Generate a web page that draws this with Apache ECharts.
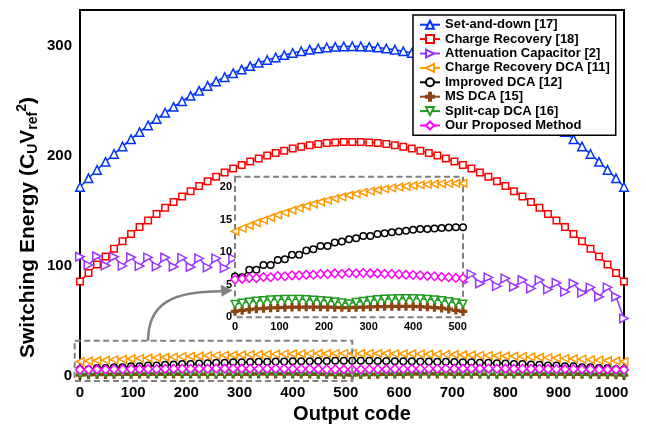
<!DOCTYPE html>
<html><head><meta charset="utf-8">
<script src="https://cdn.jsdelivr.net/npm/echarts@6/dist/echarts.min.js"></script>
<style>html,body{margin:0;padding:0;background:#fff}#c{width:646px;height:427px}</style>
</head><body><div id="c"></div>
<script>
const codes = [0,16,32,48,64,80,96,112,128,144,160,176,192,208,224,240,256,272,288,304,320,336,352,368,384,400,416,432,448,464,480,496,512,528,544,560,576,592,608,624,640,656,672,688,704,720,736,752,768,784,800,816,832,848,864,880,896,912,928,944,960,976,992,1008,1023];

const setAndDown = [172,179.9,187.5,194.9,202,208.9,215.5,221.9,228,233.9,239.5,244.9,250,254.9,259.5,263.9,268,271.9,275.5,278.9,282,284.9,287.5,289.9,292,293.9,295.5,296.9,298,298.9,299.5,299.9,300,299.9,299.5,298.9,298,296.9,295.5,293.9,292,289.9,287.5,284.9,282,278.9,275.5,271.9,268,263.9,259.5,254.9,250,244.9,239.5,233.9,228,221.9,215.5,208.9,202,194.9,187.5,179.9,172];

const chargeRecovery = [86,93.8,101.4,108.7,115.8,122.6,129.2,135.5,141.6,147.4,153,158.3,163.4,168.2,172.8,177.1,181.2,185.1,188.7,192,195.1,198,200.6,202.9,205,206.9,208.5,209.9,211,211.9,212.5,212.9,213,212.9,212.5,211.9,211,209.9,208.5,206.9,205,202.9,200.6,198,195.1,192,188.7,185.1,181.2,177.1,172.8,168.2,163.4,158.3,153,147.4,141.6,135.5,129.2,122.6,115.8,108.7,101.4,93.8,86];

const attenuationCap = [108.5,100.9,109,100.5,108.5,100.2,108,100,107.9,99.7,107.8,99.4,107.5,99.2,107,98.8,107,98.2,107,97.8,106,97,105,96,104,95,103,94,102,93,101,92.5,100,91.5,99,90.5,98,89.5,97,88.5,96,87.5,95,86.5,94,85.5,92.7,84.2,89.7,81.8,88.8,81.2,87.3,79.7,87.3,78.8,84.8,76.6,84.2,75.7,80.6,72.1,80.6,72.1,52.4];

const chargeRecoveryDCA = [13.2,13.66,14.1,14.52,14.93,15.33,15.72,16.08,16.44,16.78,17.1,17.41,17.71,17.99,18.26,18.51,18.75,18.97,19.18,19.38,19.56,19.73,19.88,20.01,20.14,20.25,20.34,20.42,20.48,20.53,20.57,20.59,20.6,20.59,20.57,20.53,20.48,20.42,20.34,20.25,20.14,20.01,19.88,19.73,19.56,19.38,19.18,18.97,18.75,18.51,18.26,17.99,17.71,17.41,17.1,16.78,16.44,16.08,15.72,15.33,14.93,14.52,14.1,13.66,13.2];

const improvedDCA = [6.25,6.15,7.3,7.3,8.05,8.05,8.8,8.9,9.6,9.6,10.25,10.45,10.95,10.95,11.5,11.65,12,12.15,12.5,12.5,12.8,12.9,13.05,13.2,13.3,13.45,13.55,13.55,13.65,13.7,13.8,13.85,13.85,13.85,13.8,13.7,13.65,13.55,13.55,13.45,13.3,13.2,13.05,12.9,12.8,12.5,12.5,12.15,12,11.65,11.5,10.95,10.95,10.45,10.25,9.6,9.6,8.9,8.8,8.05,8.05,7.3,7.3,6.15,6.25];

const msDCA = [0.9,1.05,1.18,1.28,1.36,1.43,1.48,1.52,1.55,1.57,1.58,1.58,1.57,1.55,1.52,1.5,1.48,1.52,1.56,1.6,1.63,1.65,1.66,1.67,1.67,1.66,1.63,1.58,1.5,1.4,1.25,1.08,0.9,1.08,1.25,1.4,1.5,1.58,1.63,1.66,1.67,1.67,1.66,1.65,1.63,1.6,1.56,1.52,1.48,1.5,1.52,1.55,1.57,1.58,1.58,1.57,1.55,1.52,1.48,1.43,1.36,1.28,1.18,1.05,0.9];

const splitCapDCA = [2,2.2,2.35,2.5,2.6,2.68,2.73,2.76,2.77,2.76,2.73,2.67,2.6,2.5,2.37,2.23,2.1,2.3,2.47,2.62,2.73,2.81,2.86,2.89,2.9,2.89,2.85,2.79,2.7,2.58,2.43,2.25,2.05,2.25,2.43,2.58,2.7,2.79,2.85,2.89,2.9,2.89,2.86,2.81,2.73,2.62,2.47,2.3,2.1,2.23,2.37,2.5,2.6,2.67,2.73,2.76,2.77,2.76,2.73,2.68,2.6,2.5,2.35,2.2,2];

const proposed = [5.8,5.9,6.05,6,6.2,6.15,6.35,6.3,6.45,6.45,6.55,6.55,6.65,6.65,6.75,6.7,6.8,6.75,6.8,6.75,6.75,6.7,6.65,6.6,6.55,6.5,6.45,6.35,6.3,6.2,6.15,6.05,6,6.05,6.15,6.2,6.3,6.35,6.45,6.5,6.55,6.6,6.65,6.7,6.75,6.75,6.8,6.75,6.8,6.7,6.75,6.65,6.65,6.55,6.55,6.45,6.45,6.3,6.35,6.15,6.2,6,6.05,5.9,5.8];

const mainXTicks = [0,100,200,300,400,500,600,700,800,900,1000];
const mainYTicks = [0,100,200,300];
const insetXTicks = [0,100,200,300,400,500];
const insetYTicks = [0,5,10,15,20];
const insetCount = 33; // codes 0..512

const FONT = '"Liberation Sans", Arial, Helvetica, sans-serif';
const plusPath = 'path://M3,0H5V3H8V5H5V8H3V5H0V3H3Z';

const defs = [
  {name:'Set-and-down [17]', data:setAndDown, color:'#0033ff', symbol:'triangle', rot:0, size:8.5, inset:false},
  {name:'Charge Recovery [18]', data:chargeRecovery, color:'#ff0000', symbol:'rect', rot:0, size:6.5, inset:false},
  {name:'Attenuation Capacitor [2]', data:attenuationCap, color:'#9933ff', symbol:'triangle', rot:-90, size:8.5, inset:false},
  {name:'Charge Recovery DCA [11]', data:chargeRecoveryDCA, color:'#ff9900', symbol:'triangle', rot:90, size:7.5, inset:true},
  {name:'Improved DCA [12]', data:improvedDCA, color:'#000000', symbol:'circle', rot:0, size:6.5, inset:true},
  {name:'MS DCA [15]', data:msDCA, color:'#8b4513', symbol:plusPath, rot:0, size:7, inset:true, fill:'#8b4513'},
  {name:'Split-cap DCA [16]', data:splitCapDCA, color:'#1e9a1e', symbol:'triangle', rot:180, size:7.5, inset:true},
  {name:'Our Proposed Method', data:proposed, color:'#ff00ff', symbol:'diamond', rot:0, size:8.5, inset:true}
];

function pairs(xs, ys) { return xs.map((x, i) => [x, ys[i]]); }

const series = [];
defs.forEach(d => {
  series.push({
    type:'line', name:d.name, xAxisIndex:0, yAxisIndex:0,
    data: pairs(codes, d.data),
    symbol:d.symbol, symbolSize:d.size, symbolRotate:d.rot, showAllSymbol:true,
    clip:false, z:2, animation:false,
    lineStyle:{color:d.color, width:1.5},
    itemStyle:{color:d.fill || '#ffffff', borderColor:d.color, borderWidth:1.5},
    emphasis:{disabled:true}
  });
});
defs.filter(d => d.inset).forEach(d => {
  series.push({
    type:'line', name:d.name, xAxisIndex:1, yAxisIndex:1,
    data: pairs(codes.slice(0, insetCount), d.data.slice(0, insetCount)),
    symbol:d.symbol, symbolSize:d.size, symbolRotate:d.rot, showAllSymbol:true,
    clip:false, z:10, animation:false,
    lineStyle:{color:d.color, width:1.5},
    itemStyle:{color:d.fill || '#ffffff', borderColor:d.color, borderWidth:1.5},
    emphasis:{disabled:true}
  });
});

const chart = echarts.init(document.getElementById('c'));
const boldLabel = (size, margin, vals) => ({customValues:vals, fontSize:size, fontWeight:'bold', color:'#000', fontFamily:FONT, margin:margin, formatter:v => String(v)});

chart.setOption({
  animation:false,
  backgroundColor:'#fff',
  grid:[
    {left:80, right:22, top:10, bottom:47, outerBoundsMode:'none'},
    {left:235, top:176.7, width:228, height:140.6, outerBoundsMode:'none'}
  ],
  xAxis:[
    {type:'value', gridIndex:0, min:0, max:1023, axisLine:{show:false}, axisTick:{show:false}, splitLine:{show:false},
     axisLabel:boldLabel(15, 5, mainXTicks),
     name:'Output code', nameLocation:'middle', nameGap:23,
     nameTextStyle:{fontSize:20, fontWeight:'bold', color:'#000', fontFamily:FONT}},
    {type:'value', gridIndex:1, min:0, max:512, z:6, axisLine:{show:false}, axisTick:{show:false}, splitLine:{show:false},
     axisLabel:boldLabel(11, 4, insetXTicks)}
  ],
  yAxis:[
    {type:'value', gridIndex:0, min:-3.6, max:333, axisLine:{show:false}, axisTick:{show:false}, splitLine:{show:false},
     axisLabel:boldLabel(15, 8, mainYTicks)},
    {type:'value', gridIndex:1, min:0, max:21.6, z:6, axisLine:{show:false}, axisTick:{show:false}, splitLine:{show:false},
     axisLabel:boldLabel(11, 3, insetYTicks)}
  ],
  legend:{
    orient:'vertical', left:413, top:15, itemWidth:20, itemHeight:10, itemGap:0,
    padding:[2.5, 6, 2.5, 6], backgroundColor:'#fff', borderColor:'#000', borderWidth:1.5,
    selectedMode:false,
    textStyle:{fontSize:13, fontWeight:'bold', color:'#000', fontFamily:FONT, lineHeight:14.4},
    data: defs.map(d => d.name)
  },
  series: series
});

const P = (gi, v) => chart.convertToPixel({xAxisIndex:gi, yAxisIndex:gi}, v);
const tl = P(0, [0, 333]), br = P(0, [1023, -3.6]);
const bA = P(0, [-10, 32]), bB = P(0, [512, -4.5]);
const iA = P(1, [0, 21.6]), iB = P(1, [512, 0]);
const aS = P(0, [128, 32]);
const aE = P(1, [-30, 4]);
const grey = '#808080';

chart.setOption({
  graphic:[
    {type:'polyline', z:1, shape:{points:[[tl[0], br[1]], [tl[0], tl[1]], [br[0], tl[1]], [br[0], br[1]]]},
     style:{stroke:'#000', lineWidth:2, fill:null}},
    {type:'rect', z:5, shape:{x:iA[0], y:iA[1], width:iB[0]-iA[0], height:iB[1]-iA[1]},
     style:{fill:'#fff', stroke:grey, lineWidth:2, lineDash:[6, 3.5]}},
    {type:'rect', z:5, shape:{x:bA[0], y:bA[1], width:bB[0]-bA[0], height:bB[1]-bA[1]},
     style:{fill:null, stroke:grey, lineWidth:2, lineDash:[6, 3.5]}},
    {type:'bezierCurve', z:5, shape:{x1:aS[0], y1:aS[1], cpx1:aS[0], cpy1:aS[1]-38, cpx2:aS[0]+25, cpy2:aE[1], x2:aE[0], y2:aE[1]},
     style:{stroke:grey, lineWidth:2.5, fill:null}},
    {type:'polygon', z:5, shape:{points:[[aE[0]+11, aE[1]-1], [aE[0]-1, aE[1]-6.5], [aE[0], aE[1]+5.5]]}, style:{fill:grey}},
    {type:'text', z:5, x:28, y:227.5, rotation:Math.PI/2,
     style:{text:'{a|Switching Energy (C}{s|U}{a|V}{s|ref}{p|2}{a|)}', align:'center', verticalAlign:'middle',
       rich:{
         a:{fontSize:21, fontWeight:'bold', fontFamily:FONT, fill:'#000', lineHeight:25},
         s:{fontSize:14, fontWeight:'bold', fontFamily:FONT, fill:'#000', lineHeight:25, verticalAlign:'bottom'},
         p:{fontSize:14, fontWeight:'bold', fontFamily:FONT, fill:'#000', lineHeight:25, verticalAlign:'top'}
       }}}
  ]
});
</script>
</body></html>
